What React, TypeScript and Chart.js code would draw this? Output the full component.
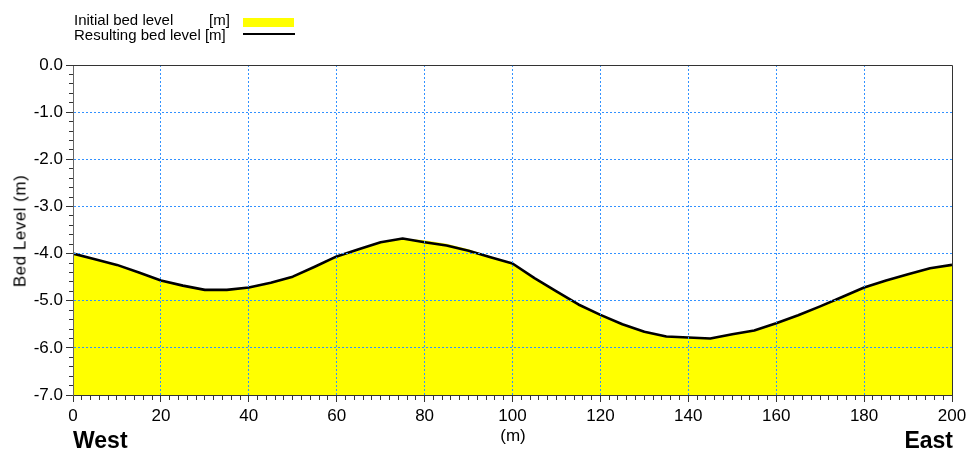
import { useEffect, useRef } from 'react';
import { Chart, registerables } from 'chart.js';

Chart.register(...registerables);

// Distance along the profile (m)
const distance = [
  0, 5, 10, 15, 20, 25, 30, 35, 40, 45, 50, 55, 60, 65, 70, 75, 80, 85, 90, 95, 100,
  105, 110, 115, 120, 125, 130, 135, 140, 145, 150, 155, 160, 165, 170, 175, 180, 185, 190, 195, 200,
];

// Initial bed level (m)
const initialLevel = [
  -4.0, -4.12, -4.24, -4.4, -4.57, -4.68, -4.77, -4.77, -4.72, -4.62, -4.49, -4.28, -4.06, -3.91, -3.76, -3.68,
  -3.72, -3.79, -3.91, -4.07, -4.21, -4.52, -4.8, -5.08, -5.3, -5.5, -5.66, -5.76, -5.78, -5.8, -5.71, -5.63,
  -5.48, -5.31, -5.12, -4.92, -4.72, -4.57, -4.44, -4.31, -4.24,
];

// Resulting bed level (m)
const resultingLevel = [
  -4.0, -4.12, -4.24, -4.4, -4.57, -4.68, -4.77, -4.77, -4.72, -4.62, -4.49, -4.28, -4.06, -3.91, -3.76, -3.68,
  -3.76, -3.83, -3.94, -4.08, -4.21, -4.52, -4.8, -5.08, -5.3, -5.5, -5.66, -5.76, -5.78, -5.8, -5.71, -5.63,
  -5.48, -5.31, -5.12, -4.92, -4.72, -4.57, -4.44, -4.31, -4.24,
];

const xRange = [0, 200];
const yRange = [-7, 0];
const xMinorStep = 2;
const xMajorStep = 20;
const yMinorStep = 0.2;
const yMajorStep = 1;

const legendLabels = ['Initial bed level', 'Resulting bed level'];
const unitLabel = '[m]';
const yTitle = 'Bed Level (m)';
const xTitle = '(m)';
const leftLabel = 'West';
const rightLabel = 'East';

const FONT = "'Liberation Sans', Arial, sans-serif";
const GRID_BLUE = 'rgb(50,145,255)';
const AXIS = '#333';

const isMultiple = (v: number, step: number) => {
  const r = v / step;
  return Math.abs(r - Math.round(r)) < 1e-6;
};

const framePlugin = {
  id: 'frame',
  afterDraw(chart: any) {
    const { ctx, chartArea: a } = chart;
    ctx.save();
    ctx.strokeStyle = AXIS;
    ctx.lineWidth = 1;
    ctx.setLineDash([]);
    ctx.beginPath();
    ctx.moveTo(a.left, a.top + 0.5);
    ctx.lineTo(a.right + 0.5, a.top + 0.5);
    ctx.lineTo(a.right + 0.5, a.bottom);
    ctx.stroke();
    ctx.restore();
  },
};

export default function App() {
  const canvasRef = useRef<HTMLCanvasElement | null>(null);

  useEffect(() => {
    const canvas = canvasRef.current;
    if (!canvas) return;
    const chart = new Chart(canvas, {
      type: 'line',
      data: {
        datasets: [
          {
            label: legendLabels[1],
            data: distance.map((d, i) => ({ x: d, y: resultingLevel[i] })),
            borderColor: '#000',
            borderWidth: 2.6,
            borderJoinStyle: 'round',
            fill: false,
            pointRadius: 0,
            tension: 0,
            order: 1,
          },
          {
            label: legendLabels[0],
            data: distance.map((d, i) => ({ x: d, y: initialLevel[i] })),
            borderColor: 'rgba(0,0,0,0)',
            borderWidth: 0,
            backgroundColor: '#ffff00',
            fill: 'start',
            pointRadius: 0,
            tension: 0,
            order: 2,
          },
        ],
      },
      options: {
        animation: false,
        responsive: false,
        layout: { padding: { top: 65, right: 22, left: 0, bottom: 0 } },
        plugins: {
          legend: { display: false },
          tooltip: { enabled: false },
        },
        scales: {
          x: {
            type: 'linear',
            min: xRange[0],
            max: xRange[1],
            afterFit: (s: any) => {
              s.height = 57;
            },
            ticks: {
              stepSize: xMinorStep,
              autoSkip: false,
              maxRotation: 0,
              padding: 4,
              color: '#000',
              font: { family: FONT, size: 17 },
              callback: (v: any) => (isMultiple(Number(v), xMajorStep) ? String(v) : ''),
            },
            grid: {
              z: 1,
              color: (c: any) => {
                const v = c.tick ? c.tick.value : NaN;
                if (v === xRange[0] || v === xRange[1]) return 'rgba(0,0,0,0)';
                return isMultiple(v, xMajorStep) ? GRID_BLUE : 'rgba(0,0,0,0)';
              },
              lineWidth: 1,
              tickLength: 7,
              tickColor: AXIS,
              tickWidth: 1,
              tickBorderDash: (c: any) => {
                const v = c.tick ? c.tick.value : NaN;
                return isMultiple(v, xMajorStep) ? [] : [4, 20];
              },
            },
            border: { color: AXIS, width: 1, dash: [2, 2], z: 1 },
          },
          y: {
            type: 'linear',
            min: yRange[0],
            max: yRange[1],
            afterFit: (s: any) => {
              s.width = 73;
            },
            ticks: {
              stepSize: yMinorStep,
              autoSkip: false,
              padding: 3,
              color: '#000',
              font: { family: FONT, size: 17 },
              callback: (v: any) => (isMultiple(Number(v), yMajorStep) ? Number(v).toFixed(1) : ''),
            },
            grid: {
              z: 1,
              color: (c: any) => {
                const v = c.tick ? c.tick.value : NaN;
                if (v === yRange[0] || v === yRange[1]) return 'rgba(0,0,0,0)';
                return isMultiple(v, yMajorStep) ? GRID_BLUE : 'rgba(0,0,0,0)';
              },
              lineWidth: 1,
              tickLength: 7,
              tickColor: AXIS,
              tickWidth: 1,
              tickBorderDash: (c: any) => {
                const v = c.tick ? c.tick.value : NaN;
                return isMultiple(v, yMajorStep) ? [] : [0, 3, 4, 20];
              },
            },
            border: { color: '#666', width: 1, dash: [2, 2], z: 1 },
          },
        },
      },
      plugins: [framePlugin],
    } as any);
    return () => chart.destroy();
  }, []);

  const text: any = { position: 'absolute', whiteSpace: 'nowrap', color: '#000', fontFamily: FONT };

  return (
    <div style={{ position: 'absolute', left: 0, top: 0, width: 974, height: 452, background: '#fff', overflow: 'hidden' }}>
      <canvas ref={canvasRef} width={974} height={452} style={{ display: 'block', width: 974, height: 452 }} />
      {/* Legend */}
      <div style={{ ...text, left: 74, top: 12, fontSize: 15, lineHeight: '15px' }}>{legendLabels[0]}</div>
      <div style={{ ...text, left: 209, top: 12, fontSize: 15, lineHeight: '15px' }}>{unitLabel}</div>
      <div style={{ ...text, left: 74, top: 27, fontSize: 15, lineHeight: '15px' }}>
        {legendLabels[1]} {unitLabel}
      </div>
      <div style={{ position: 'absolute', left: 243, top: 18, width: 51, height: 9, background: '#ffff00' }} />
      <div style={{ position: 'absolute', left: 243, top: 33, width: 52, height: 2, background: '#000' }} />
      {/* Axis titles */}
      <div
        style={{
          ...text,
          left: 20,
          top: 231,
          fontSize: 17,
          lineHeight: '17px',
          letterSpacing: '0.5px',
          transform: 'translate(-50%, -50%) rotate(-90deg)',
        }}
      >
        {yTitle}
      </div>
      <div style={{ ...text, left: 513, top: 427, fontSize: 17, lineHeight: '17px', transform: 'translateX(-50%)' }}>
        {xTitle}
      </div>
      <div style={{ ...text, left: 73, top: 429, fontSize: 23, lineHeight: '23px', fontWeight: 'bold' }}>{leftLabel}</div>
      <div style={{ ...text, right: 21, top: 429, fontSize: 23, lineHeight: '23px', fontWeight: 'bold' }}>{rightLabel}</div>
    </div>
  );
}
